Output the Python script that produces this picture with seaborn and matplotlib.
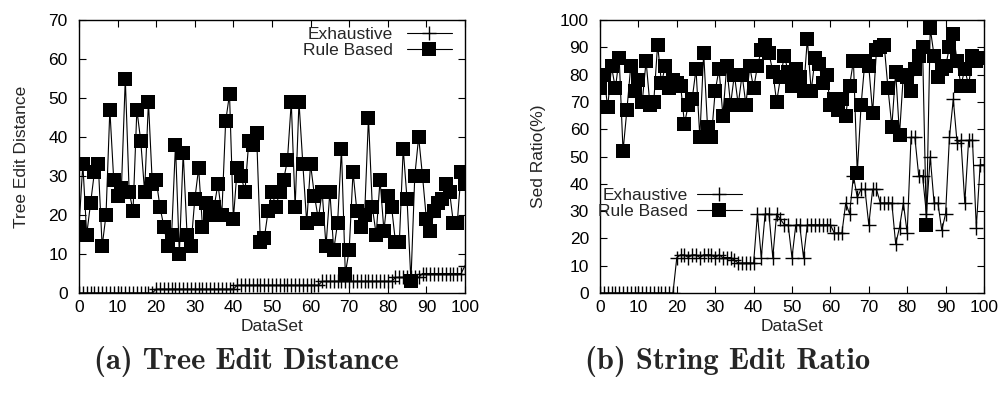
import matplotlib
matplotlib.use("Agg")
import matplotlib.pyplot as plt
import numpy as np
import pandas as pd
import seaborn as sns

dataset = list(range(0, 101))

ted_exhaustive = [
    0, 0, 0, 0, 0, 0, 0, 0, 0, 0, 0, 0, 0, 0, 0, 0, 0, 0, 0, 0,
    1, 1, 1, 1, 1, 1, 1, 1, 1, 1, 1, 1, 1, 1, 1, 1, 1, 1, 1, 1,
    1, 2, 2, 2, 2, 2, 2, 2, 2, 2, 2, 2, 2, 2, 2, 2, 2, 2, 2, 2,
    2, 2, 2, 3, 3, 3, 3, 3, 3, 3, 3, 3, 3, 3, 3, 3, 3, 3, 3, 3,
    3, 3, 4, 4, 4, 4, 4, 4, 4, 5, 5, 5, 5, 5, 5, 5, 5, 5, 5, 5,
    7]

ted_rule = [
    17, 33, 15, 23, 31, 33, 12, 20, 47, 29,
    25, 27, 55, 26, 21, 47, 39, 26, 49, 28,
    29, 22, 17, 12, 15, 38, 10, 36, 15, 12,
    24, 32, 17, 23, 20, 22, 28, 20, 44, 51,
    19, 32, 30, 26, 39, 38, 41, 13, 14, 21,
    26, 22, 26, 29, 34, 49, 22, 49, 33, 18,
    33, 25, 19, 26, 12, 26, 11, 18, 37, 5,
    11, 31, 21, 17, 20, 45, 22, 15, 29, 16,
    25, 22, 13, 13, 37, 24, 3, 30, 40, 30,
    19, 16, 21, 23, 24, 28, 26, 18, 18, 31,
    28]

ser_exhaustive = [
    0, 0, 0, 0, 0, 0, 0, 0, 0, 0,
    0, 0, 0, 0, 0, 0, 0, 0, 0, 0,
    13, 14, 14, 13, 14, 14, 13, 14, 14, 14,
    13, 14, 13, 13, 13, 12, 11, 11, 11, 11,
    11, 29, 13, 29, 29, 13, 29, 27, 25, 25,
    13, 25, 25, 13, 25, 25, 25, 25, 25, 25,
    25, 22, 22, 22, 33, 29, 43, 35, 38, 38,
    25, 38, 38, 33, 33, 33, 33, 18, 24, 33,
    22, 57, 57, 43, 43, 29, 50, 33, 33, 23,
    29, 57, 71, 55, 56, 33, 56, 56, 24, 47,
    47]

ser_rule = [
    75, 80, 68, 83, 75, 86, 52, 67, 83, 74,
    78, 70, 85, 69, 70, 91, 77, 83, 75, 78,
    77, 76, 62, 69, 71, 82, 57, 88, 61, 57,
    74, 82, 65, 83, 69, 80, 69, 80, 69, 83,
    75, 83, 89, 91, 88, 81, 70, 79, 87, 81,
    76, 82, 79, 74, 93, 74, 86, 84, 77, 80,
    69, 71, 67, 71, 65, 76, 85, 44, 69, 85,
    83, 66, 89, 90, 91, 75, 61, 81, 58, 80,
    79, 74, 82, 87, 90, 25, 97, 87, 79, 82,
    83, 90, 95, 85, 76, 82, 76, 87, 85, 86,
    86]

series_names = ["Exhaustive", "Rule Based"]
x_ticks = [0, 10, 20, 30, 40, 50, 60, 70, 80, 90, 100]
ted_yticks = [0, 10, 20, 30, 40, 50, 60, 70]
ser_yticks = [0, 10, 20, 30, 40, 50, 60, 70, 80, 90, 100]
captions = ["(a) Tree Edit Distance", "(b) String Edit Ratio"]
ylabels = ["Tree Edit Distance", "Sed Ratio(%)"]
xlabel = "DataSet"

sns.set_style("ticks")
plt.rcParams["font.family"] = ["Liberation Sans", "DejaVu Sans"]

fig = plt.figure(figsize=(10.01, 3.96), dpi=100)
ax1 = fig.add_axes([0.0789, 0.260, 0.3856, 0.6894])
ax2 = fig.add_axes([0.5994, 0.260, 0.3836, 0.6894])

FS = 12.5
line_kw = dict(color="black", linewidth=0.8)


def draw(ax, exh, rule, yticks, ylabel, ylabelpad, legend_loc, legend_anchor,
         textpad):
    df = pd.DataFrame({"x": dataset, "exh": exh, "rule": rule})
    sns.lineplot(data=df, x="x", y="exh", ax=ax, marker="+", markersize=10,
                 markeredgewidth=1.0, markeredgecolor="black",
                 label=series_names[0], **line_kw)
    sns.lineplot(data=df, x="x", y="rule", ax=ax, marker="s", markersize=9.5,
                 markeredgewidth=0, markerfacecolor="black",
                 label=series_names[1], **line_kw)
    ax.set_xlim(0, 100)
    ax.set_ylim(yticks[0], yticks[-1])
    ax.set_xticks(x_ticks)
    ax.set_yticks(yticks)
    ax.tick_params(direction="in", length=5, width=0.8, top=True, right=True,
                   labelsize=FS, colors="black")
    ax.tick_params(axis="x", pad=5)
    ax.tick_params(axis="y", pad=8)
    for s in ax.spines.values():
        s.set_linewidth(1.0)
        s.set_color("black")
    ax.set_xlabel(xlabel, fontsize=FS, labelpad=3)
    ax.set_ylabel(ylabel, fontsize=FS, labelpad=ylabelpad)
    leg = ax.legend(loc=legend_loc, bbox_to_anchor=legend_anchor,
                    frameon=False, markerfirst=False, fontsize=FS,
                    handlelength=2.6, handletextpad=textpad, labelspacing=0.05,
                    borderaxespad=0.0, borderpad=0.0)
    return leg


draw(ax1, ted_exhaustive, ted_rule, ted_yticks, ylabels[0], 14,
     "upper right", (0.966, 0.975), 0.8)
draw(ax2, ser_exhaustive, ser_rule, ser_yticks, ylabels[1], 10,
     "upper left", (-0.005, 0.385), 0.5)

cap_font = dict(family=["cmb10", "DejaVu Serif"], fontsize=22)
fig.text(0.246, 0.088, captions[0], ha="center", va="center", **cap_font)
fig.text(0.727, 0.088, captions[1], ha="center", va="center", **cap_font)

fig.savefig("out.png", dpi=100)
